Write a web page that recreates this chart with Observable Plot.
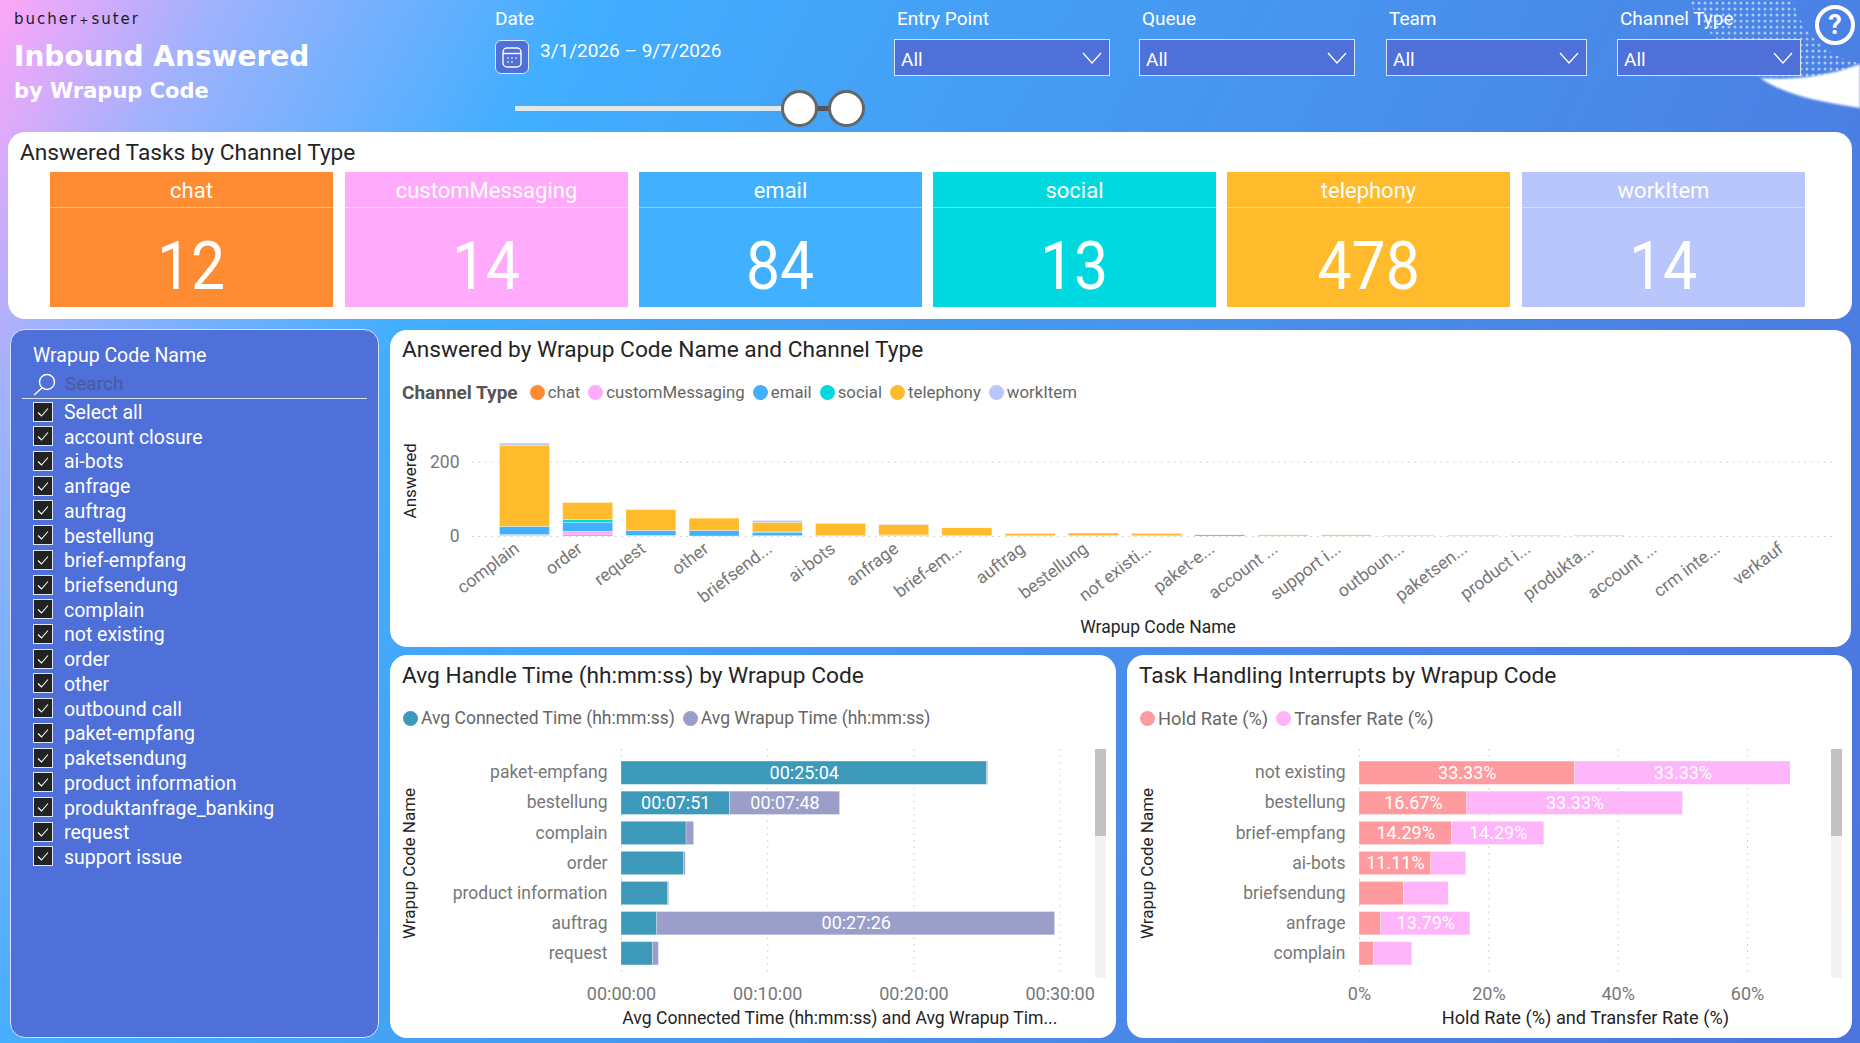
<!DOCTYPE html>
<html><head><meta charset="utf-8">
<script src="https://cdn.jsdelivr.net/npm/d3@7"></script>
<script src="https://cdn.jsdelivr.net/npm/@observablehq/plot@0.6"></script>
<style>
html,body{margin:0;padding:0;width:1860px;height:1043px;overflow:hidden;font-family:Roboto,sans-serif}
#root{position:relative;width:1860px;height:1043px;overflow:hidden;background:linear-gradient(118deg,#ffa6f8 0%,#9fb2fd 9%,#41aeff 24%,#4698f0 50%,#4b7fe3 80%,#4b74dd 100%)}
.abs{position:absolute}
.panel{position:absolute;background:#fff;border-radius:17px}
.ptitle{position:absolute;font-size:22.7px;color:#252423;white-space:nowrap;line-height:30px}
.lab{position:absolute;color:#fff;font-size:19px;line-height:24px;white-space:nowrap}
.dd{position:absolute;top:39px;height:35px;background:#4f6fd9;border:1px solid #d5e2f8;color:#fff;font-size:19px;line-height:39px;padding-left:6px;box-sizing:content-box}
.dd svg{position:absolute;right:7px;top:12px}
.tile{position:absolute;top:172px;height:135px;color:#fff;text-align:center}
.tile .h{height:35px;line-height:37px;font-size:22px;border-bottom:1px solid rgba(255,255,255,.4)}
.tile .v{font-size:66px;line-height:118px}
.tile .v span{display:inline-block;transform:scaleX(.92)}
.legend{position:absolute;display:flex;align-items:center;color:#666;white-space:nowrap;height:24px}
.legend i{display:inline-block;width:15px;height:15px;border-radius:50%;margin-right:3px;flex:none}
.legend span{margin-right:8px}
.item{position:absolute;left:33px;height:24px;display:flex;align-items:center;color:#fff;font-size:19.5px;white-space:nowrap}
.cb{width:18px;height:18px;background:#222;border:1px solid #dfe5f7;margin-right:11px;position:relative;flex:none}
.track{position:absolute;width:11px;background:#f3f3f3}
.thumb{position:absolute;width:11px;background:#c2c2c2}
svg text{font-family:Roboto,sans-serif}
</style></head><body>
<div id="root"></div>
<script>
// ---------- data ----------
const channels = ["chat","customMessaging","email","social","telephony","workItem"];
const channelColors = ["#ff8b33","#ffaafb","#41b0ff","#00d9df","#ffbb2b","#b8c6fb"];
const channelTotals = [12,14,84,13,478,14];
const wrapNames = ["complain","order","request","other","briefsendung","ai-bots","anfrage","brief-empfang","auftrag","bestellung","not existing","paket-empfang","account closure","support issue","outbound call","paketsendung","product information","produktanfrage_banking","account management","crm integration","verkauf"];
const wrapTicks = ["complain","order","request","other","briefsend...","ai-bots","anfrage","brief-em...","auftrag","bestellung","not existi...","paket-e...","account ...","support i...","outboun...","paketsen...","product i...","produkta...","account ...","crm inte...","verkauf"];
const chatVals   = [2,3,2,0,1,2,2,1,1,1,1,0,0,0,0,0,1,0,0,0,0];
const customVals = [2,10,0,0,0,0,1,0,0,0,0,0,0,0,0,0,0,0,0,0,0];
const emailVals  = [21,23,12,14,9,0,0,0,0,0,0,3,0,0,0,0,0,0,0,0,0];
const socialVals = [1,8,1,1,1,0,0,0,0,0,0,0,0,0,0,0,0,0,0,0,0];
const telVals    = [218,46,56,33,26,32,28,21,6,7,6,0,3,3,2,2,1,2,0,0,0];
const workVals   = [6,0,0,0,5,1,1,0,1,0,0,0,0,0,0,0,0,0,0,0,0];
const channelVals = [chatVals,customVals,emailVals,socialVals,telVals,workVals];

const timeNames = ["paket-empfang","bestellung","complain","order","product information","auftrag","request"];
const connectedMin = [25.0,7.42,4.45,4.29,3.2,2.45,2.16];
const wrapupMin    = [0.08,7.53,0.52,0.1,0.06,27.21,0.4];
const connectedLabels = ["00:25:04","00:07:51","","","","",""];
const wrapupLabels    = ["","00:07:48","","","","00:27:26",""];
const timeSeries = ["Avg Connected Time (hh:mm:ss)","Avg Wrapup Time (hh:mm:ss)"];
const timeColors = ["#3d9aba","#9b9ec9"];

const rateNames = ["not existing","bestellung","brief-empfang","ai-bots","briefsendung","anfrage","complain"];
const holdRate     = [33.33,16.67,14.29,11.11,6.86,3.36,2.26];
const transferRate = [33.33,33.33,14.29,5.38,6.93,13.79,5.9];
const holdLabels     = ["33.33%","16.67%","14.29%","11.11%","","",""];
const transferLabels = ["33.33%","33.33%","14.29%","","","13.79%",""];
const rateSeries = ["Hold Rate (%)","Transfer Rate (%)"];
const rateColors = ["#ff9a9e","#ffb5fa"];

const slicerItems = ["Select all","account closure","ai-bots","anfrage","auftrag","bestellung","brief-empfang","briefsendung","complain","not existing","order","other","outbound call","paket-empfang","paketsendung","product information","produktanfrage_banking","request","support issue"];

// ---------- helpers ----------
const root = document.getElementById("root");
function el(cls, style, html, parent){const d=document.createElement("div");if(cls)d.className=cls;if(style)d.style.cssText=style;if(html!=null)d.innerHTML=html;(parent||root).appendChild(d);return d;}
const chevron='<svg width="20" height="12" viewBox="0 0 20 12"><path d="M1 1 L10 11 L19 1" fill="none" stroke="#fff" stroke-width="1.3"/></svg>';

// decorative swoosh top right
el("abs","left:1660px;top:0;width:200px;height:125px",'<svg width="200" height="125" viewBox="0 0 200 125"><defs><pattern id="dots" width="6" height="6" patternUnits="userSpaceOnUse"><circle cx="3" cy="3" r="1.5" fill="#fff" opacity=".55"/></pattern><filter id="bl"><feGaussianBlur stdDeviation="1.2"/></filter></defs><path d="M28 0 L133 0 C140 32 168 58 200 63 L200 80 C150 85 120 85 100 78 C70 60 45 30 28 0Z" fill="url(#dots)"/><path d="M100 78 C125 80 165 78 200 64 L200 108 C160 102 125 95 100 78Z" fill="#fff" filter="url(#bl)"/></svg>');

// header
el("abs","left:14px;top:8px;font-family:'DejaVu Sans';font-size:15px;letter-spacing:2px;color:#1c1c28;white-space:nowrap;line-height:22px","bucher<span style='font-size:11px;margin:0 1px'>+</span>suter");
el("abs","left:14px;top:38px;font-family:'DejaVu Sans';font-size:28px;font-weight:700;color:#fff;white-space:nowrap;line-height:38px","Inbound Answered");
el("abs","left:14px;top:75px;font-family:'DejaVu Sans';font-size:21px;font-weight:700;color:#fff;white-space:nowrap;line-height:32px","by Wrapup Code");
el("lab","left:495px;top:7px","Date");
el("abs","left:495px;top:40px;width:32px;height:32px;background:#4f6fd9;border:1px solid #dfe8ff;border-radius:6px",'<svg width="32" height="32" viewBox="0 0 32 32" fill="none" stroke="#fff" stroke-width="1.4"><rect x="7" y="7" width="18" height="19" rx="4"/><path d="M7 12.5H25"/><path d="M11.5 17h1M15.5 17h1M19.5 17h1M11.5 21h1M15.5 21h1" stroke-width="1.8"/></svg>');
el("lab","left:540px;top:39px","3/1/2026 – 9/7/2026");
// date slider
el("abs","left:515px;top:106px;width:285px;height:5px;background:#dfe8ee");
el("abs","left:800px;top:106px;width:46px;height:5px;background:#555");
for(const cx of [799,846]) el("abs",`left:${cx-18}px;top:90px;width:31px;height:31px;background:#fff;border:3px solid #666;border-radius:50%`);

const dds=[["Entry Point",894,214],["Queue",1139,214],["Team",1386,199],["Channel Type",1617,182]];
for(const [t,x,w] of dds){
  el("lab",`left:${x+3}px;top:7px`,t);
  el("dd",`left:${x}px;width:${w-6}px`,"All"+chevron);
}
// help icon
el("abs","left:1815px;top:5px;width:32px;height:32px;border:4px solid #fff;border-radius:50%;color:#fff;font-size:27px;font-weight:700;text-align:center;line-height:32px","?");

// KPI panel
el("panel","left:8px;top:132px;width:1844px;height:187px");
el("ptitle","left:20px;top:138px","Answered Tasks by Channel Type");
const tileX=[50,345,639,933,1227,1522];
channels.forEach((c,i)=>{
  el("tile",`left:${tileX[i]}px;width:283px;background:${channelColors[i]}`,`<div class="h">${c}</div><div class="v"><span>${channelTotals[i]}</span></div>`);
});

// slicer
el("abs","left:10px;top:329px;width:369px;height:709px;background:#4f6fd9;border:1px solid #d5e2f8;border-radius:15px;box-sizing:border-box");
el("abs","left:33px;top:344px;color:#fff;font-size:19.5px;line-height:24px;white-space:nowrap","Wrapup Code Name");
el("abs","left:33px;top:372px",'<svg width="24" height="24" viewBox="0 0 24 24" fill="none" stroke="#fff" stroke-width="1.4"><circle cx="14" cy="10" r="7.5"/><path d="M9 16 L1 23"/></svg>');
el("abs","left:65px;top:372px;color:#4a5a9e;font-size:19px;line-height:24px","Search");
el("abs","left:22px;top:398px;width:345px;height:1px;background:#d5e2f8");
slicerItems.forEach((t,i)=>{
  el("item",`top:${400.5+i*24.72}px`,`<div class="cb" style="top:-1px"><svg width="18" height="18" viewBox="0 0 18 18" style="position:absolute;left:0;top:0"><path d="M4 9.5 L7.5 13 L14 5.5" fill="none" stroke="#fff" stroke-width="1.1"/></svg></div>${t}`);
});

// chart panels
el("panel","left:390px;top:330px;width:1461px;height:317px");
el("panel","left:390px;top:655px;width:726px;height:383px");
el("panel","left:1127px;top:655px;width:725px;height:383px");
el("ptitle","left:402px;top:335px","Answered by Wrapup Code Name and Channel Type");
el("ptitle","left:402px;top:661px","Avg Handle Time (hh:mm:ss) by Wrapup Code");
el("ptitle","left:1139px;top:661px","Task Handling Interrupts by Wrapup Code");

function legend(x,y,size,names,cols,head){
  const html=(head?`<b style="color:#555;margin-right:12px;font-size:19px">${head}</b>`:"")+names.map((n,i)=>`<i style="background:${cols[i]}"></i><span>${n}</span>`).join("");
  el("legend",`left:${x}px;top:${y}px;font-size:${size}px`,html);
}
legend(402,380,16.8,channels,channelColors,"Channel Type");
legend(403,706,17.5,timeSeries,timeColors);
legend(1140,706,18.3,rateSeries,rateColors);

const fontStyle={fontFamily:"Roboto,sans-serif",fontSize:"17.5px",overflow:"visible",background:"transparent"};
const grid="#c8c8c8";

// stacked columns
const colData=channels.flatMap((c,i)=>wrapNames.map((n,j)=>({name:n,channel:c,value:channelVals[i][j]})));
const tickOf=new Map(wrapNames.map((n,i)=>[n,wrapTicks[i]]));
const p1=Plot.plot({
  width:1461,height:317,marginLeft:82,marginRight:14,marginTop:94.5,marginBottom:111,style:fontStyle,
  x:{domain:wrapNames,paddingInner:0.21,paddingOuter:0.403,align:0.54,round:false,label:null},
  y:{domain:[0,300],label:null},
  color:{domain:channels,range:channelColors},
  marks:[
    Plot.ruleY([200],{stroke:grid,strokeDasharray:"1.5 5"}),
    Plot.barY(colData,{x:"name",y:"value",fill:"channel",z:"channel",stroke:"#fff",strokeWidth:0.4,strokeOpacity:0.7}),
    Plot.ruleY([0],{stroke:grid,strokeDasharray:"1.5 5"}),
    Plot.axisY({ticks:[0,200],tickSize:0,tickPadding:13,label:null,color:"#777"}),
    Plot.axisX({tickRotate:-37,tickSize:0,tickPadding:8,dx:-8,dy:2,tickFormat:d=>tickOf.get(d),label:null,color:"#777"}),
    Plot.text(["Answered"],{frameAnchor:"left",textAnchor:"middle",dx:-62,rotate:-90,fill:"#252423",fontSize:17}),
    Plot.text(["Wrapup Code Name"],{frameAnchor:"bottom",dy:96,dx:3,fill:"#252423",fontSize:17.5})
  ]
});
p1.style.position="absolute";p1.style.left="390px";p1.style.top="330px";root.appendChild(p1);

const fmtT=m=>{const s=Math.round(m*60);return [Math.floor(s/3600),Math.floor(s/60)%60,s%60].map(v=>String(v).padStart(2,"0")).join(":");};

// horizontal stacked bars
function hbar(names,series,colors,a,b,la,lb,opts){
  const data=series.flatMap((s,i)=>names.map((n,j)=>({name:n,series:s,value:(i?b:a)[j],label:(i?lb:la)[j]})));
  const p=Plot.plot({
    width:opts.w,height:383,marginLeft:opts.ml,marginRight:opts.mr,marginTop:94,marginBottom:61,style:fontStyle,
    x:{domain:opts.domain,label:null},
    y:{domain:names,paddingInner:0.225,paddingOuter:0.4,round:false,label:null},
    color:{domain:series,range:colors},
    marks:[
      Plot.ruleX(opts.ticks,{stroke:grid,strokeDasharray:"1.5 5"}),
      Plot.barX(data,{y:"name",x:"value",fill:"series",z:"series",stroke:"#fff",strokeWidth:0.4,strokeOpacity:0.7}),
      Plot.text(data,Plot.stackX({y:"name",x:"value",z:"series",text:"label",fill:"#fff",fontSize:18})),
      Plot.axisY({tickSize:0,tickPadding:14,dy:-0.5,label:null,color:"#777"}),
      Plot.axisX({ticks:opts.ticks,tickSize:0,tickPadding:10,fontSize:18,tickFormat:opts.tick,label:null,color:"#777"}),
      Plot.text(["Wrapup Code Name"],{frameAnchor:"left",textAnchor:"middle",dx:-opts.ml+opts.tx,rotate:-90,fill:"#252423",fontSize:17}),
      Plot.text([opts.xtitle],{frameAnchor:"bottom",dy:46,dx:opts.xdx,fill:"#252423",fontSize:opts.xfs})
    ]
  });
  p.style.position="absolute";p.style.left=opts.left+"px";p.style.top="655px";root.appendChild(p);
}
hbar(timeNames,timeSeries,timeColors,connectedMin,wrapupMin,connectedLabels,wrapupLabels,{w:726,ml:231,mr:56.4,left:390,domain:[0,30],ticks:[0,10,20,30],tick:fmtT,tx:19,xdx:-1,xfs:17.6,xtitle:"Avg Connected Time (hh:mm:ss) and Avg Wrapup Tim..."});
hbar(rateNames,rateSeries,rateColors,holdRate,transferRate,holdLabels,transferLabels,{w:725,ml:232,mr:53.2,left:1127,domain:[0,68],ticks:[0,20,40,60],tick:v=>v+"%",tx:20,xdx:6,xfs:18.2,xtitle:"Hold Rate (%) and Transfer Rate (%)"});

// scrollbars
for(const x of [1095,1831]){
  el("track",`left:${x}px;top:749px;height:229px`);
  el("thumb",`left:${x}px;top:749px;height:87px`);
}
</script></body></html>
